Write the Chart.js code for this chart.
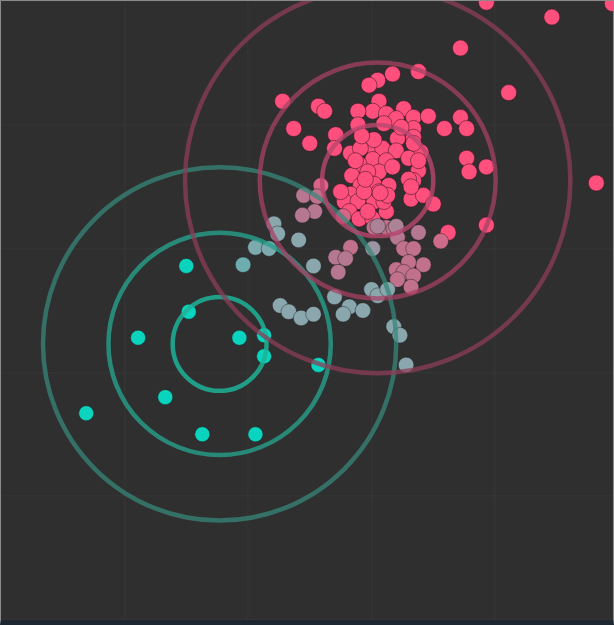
<!DOCTYPE html>
<html>
<head>
<meta charset="utf-8">
<script src="https://cdn.jsdelivr.net/npm/chart.js@4"></script>
<style>
  html, body { margin: 0; padding: 0; background: #2f2f2f; }
  #frame {
    position: absolute; left: 0; top: 0; width: 614px; height: 625px;
    box-sizing: border-box; background: #2f2f2f;
    border-top: 1px solid #8a8a8a; border-left: 1px solid #8a8a8a; border-right: 1px solid #8a8a8a;
    border-bottom: 5px solid #1c2731;
  }
  #wrap { position: relative; width: 612px; height: 619px; }
</style>
</head>
<body>
<div id="frame"><div id="wrap"><canvas id="c"></canvas></div></div>
<script>
// ---- data (x, y in data units) ----
const tealX = [1.50, 1.52, 1.11, 1.93, 2.13, 2.13, 2.57, 1.33, 0.69, 1.63, 2.06];
const tealY = [2.86, 2.49, 2.28, 2.28, 2.30, 2.13, 2.06, 1.80, 1.67, 1.50, 1.50];

const pinkX = [3.93, 4.46, 3.72, 4.11, 4.82, 4.95, 2.28, 2.37, 2.50, 2.57, 2.62, 3.38, 3.17, 3.05, 2.98,
  3.06, 3.01, 2.89, 3.12, 3.26, 3.34, 3.46, 3.20, 2.89, 3.10, 3.34, 3.59, 3.72, 3.77, 2.71, 2.70,
  3.21, 3.34, 3.40, 2.83, 3.00, 3.09, 2.91, 3.20, 3.01, 3.12, 2.90, 3.06, 2.97, 2.84, 2.91, 3.02,
  3.14, 3.38, 3.34, 3.30, 3.77, 3.79, 3.93, 2.83, 2.78, 2.89, 3.02, 3.06, 3.32, 3.42, 3.50, 2.82,
  2.90, 3.01, 3.12, 2.97, 3.93, 3.62,
  2.75, 2.94, 3.10, 3.02, 2.92, 3.24, 3.34, 3.30, 3.38, 3.32, 3.13, 2.95, 3.17, 2.87, 3.07];
const pinkY = [4.99, 4.87, 4.62, 4.26, 3.53, 4.98, 4.19, 3.97, 3.85, 4.15, 4.11, 4.43, 4.41, 4.36, 4.32,
  4.19, 4.11, 4.11, 4.09, 4.13, 4.06, 4.07, 4.05, 4.00, 4.01, 3.97, 3.97, 4.06, 3.97, 3.92, 3.81,
  3.89, 3.90, 3.78, 3.77, 3.83, 3.81, 3.81, 3.79, 3.72, 3.71, 3.68, 3.62, 3.62, 3.59, 3.51, 3.52,
  3.51, 3.63, 3.55, 3.56, 3.73, 3.62, 3.66, 3.44, 3.38, 3.38, 3.38, 3.46, 3.40, 3.43, 3.36, 3.30,
  3.24, 3.24, 3.30, 3.30, 3.19, 3.13,
  3.46, 3.46, 3.38, 3.88, 3.91, 3.98, 3.85, 3.73, 3.71, 3.50, 3.43, 3.56, 3.66, 3.71, 3.45];

// points between the two clusters, with their membership in the pink cluster (0 = teal, 1 = pink)
const mixX = [2.59, 2.45, 2.56, 2.54, 2.44, 2.77, 3.02, 3.12, 3.18, 3.21, 3.38, 3.56, 3.26, 3.34, 3.42,
  3.30, 3.20, 3.26, 3.34, 3.21, 3.32, 2.83, 2.71, 2.79, 2.73, 3.01, 3.05, 3.20,
  2.21, 2.24, 2.41, 2.06, 2.17, 1.96, 2.53, 3.00, 3.05, 3.13, 2.70, 2.82, 2.93, 2.77, 2.26, 2.33,
  2.43, 2.53, 3.18, 3.23, 3.28];
const mixY = [3.51, 3.43, 3.42, 3.30, 3.27, 3.26, 3.17, 3.17, 3.16, 3.09, 3.13, 3.06, 3.00, 3.00, 2.87,
  2.89, 2.83, 2.81, 2.78, 2.75, 2.69, 3.01, 2.93, 2.92, 2.81, 3.00, 3.18, 3.18,
  3.20, 3.12, 3.07, 3.01, 3.00, 2.87, 2.86, 2.67, 2.62, 2.67, 2.61, 2.53, 2.50, 2.47, 2.54, 2.49,
  2.44, 2.47, 2.37, 2.30, 2.06];
const mixP = [0.85, 0.70, 0.75, 0.70, 0.70, 0.85, 0.75, 0.75, 0.75, 0.70, 0.70, 0.80, 0.75, 0.75, 0.75,
  0.75, 0.75, 0.75, 0.75, 0.75, 0.75, 0.75, 0.70, 0.70, 0.70, 0.55, 0.65, 0.65,
  0.45, 0.45, 0.45, 0.40, 0.40, 0.35, 0.45, 0.45, 0.45, 0.45, 0.45, 0.45, 0.45, 0.45, 0.45, 0.45,
  0.45, 0.45, 0.45, 0.45, 0.45];

// cluster centres and ring radii (data units)
const centerX = [1.77, 3.05];
const centerY = [2.23, 3.55];
const ringRadiiTeal = [0.38, 0.90, 1.43];
const ringRadiiPink = [0.45, 0.955, 1.56];

// ---- styling ----
const TEAL = [10, 212, 190];
const PINK = [255, 80, 125];
function mixColor(p) {
  const c = TEAL.map((t, i) => t + (PINK[i] - t) * p);
  const w = Math.max(0, 1 - Math.abs(p - 0.45) * 4) * 0.14;
  return 'rgb(' + c.map(v => Math.round(v + (255 - v) * w)).join(',') + ')';
}
const tealRingColors = ['rgba(30,178,152,0.85)', 'rgba(40,160,140,0.8)', 'rgba(55,135,120,0.75)'];
const pinkRingColors = ['rgba(185,70,110,0.8)', 'rgba(165,65,100,0.75)', 'rgba(140,62,88,0.75)'];

const toPts = (xs, ys) => xs.map((x, i) => ({ x: x, y: ys[i] }));

const ringPlugin = {
  id: 'rings',
  afterDatasetsDraw(chart) {
    const { ctx, chartArea, scales } = chart;
    const xs = scales.x, ys = scales.y;
    ctx.save();
    ctx.beginPath();
    ctx.rect(chartArea.left, chartArea.top, chartArea.right - chartArea.left, chartArea.bottom - chartArea.top);
    ctx.clip();
    ctx.lineWidth = 4.5;
    const sets = [[0, ringRadiiTeal, tealRingColors], [1, ringRadiiPink, pinkRingColors]];
    sets.forEach(([k, radii, cols]) => {
      const cx = xs.getPixelForValue(centerX[k]);
      const cy = ys.getPixelForValue(centerY[k]);
      radii.forEach((r, j) => {
        const rp = xs.getPixelForValue(centerX[k] + r) - cx;
        ctx.strokeStyle = cols[j];
        ctx.beginPath();
        ctx.arc(cx, cy, rp, 0, Math.PI * 2);
        ctx.stroke();
      });
    });
    ctx.restore();
  }
};

new Chart(document.getElementById('c'), {
  type: 'scatter',
  data: {
    datasets: [
      {
        label: 'Teal cluster',
        data: toPts(tealX, tealY),
        backgroundColor: mixColor(0),
        borderColor: 'rgba(30,30,30,0.45)',
        borderWidth: 1,
        pointRadius: 7.5
      },
      {
        label: 'Mixed',
        data: toPts(mixX, mixY),
        backgroundColor: mixP.map(mixColor),
        borderColor: 'rgba(30,30,30,0.45)',
        borderWidth: 1,
        pointRadius: 7.8
      },
      {
        label: 'Pink cluster',
        data: toPts(pinkX, pinkY),
        backgroundColor: mixColor(1),
        borderColor: 'rgba(60,20,35,0.55)',
        borderWidth: 1,
        pointRadius: 8
      }
    ]
  },
  options: {
    responsive: true,
    maintainAspectRatio: false,
    animation: false,
    events: [],
    layout: { padding: 0, autoPadding: false },
    plugins: { legend: { display: false }, tooltip: { enabled: false } },
    scales: {
      x: {
        type: 'linear', min: 0, max: 4.955,
        ticks: { display: false, stepSize: 1 },
        grid: { color: 'rgba(255,255,255,0.025)', drawTicks: false, lineWidth: 1.5 },
        border: { display: false },
        afterFit(s) { s.height = 0; }
      },
      y: {
        type: 'linear', min: 0, max: 5,
        ticks: { display: false, stepSize: 1 },
        grid: { color: 'rgba(255,255,255,0.025)', drawTicks: false, lineWidth: 1.5 },
        border: { display: false },
        afterFit(s) { s.width = 0; }
      }
    }
  },
  plugins: [ringPlugin]
});
</script>
</body>
</html>
